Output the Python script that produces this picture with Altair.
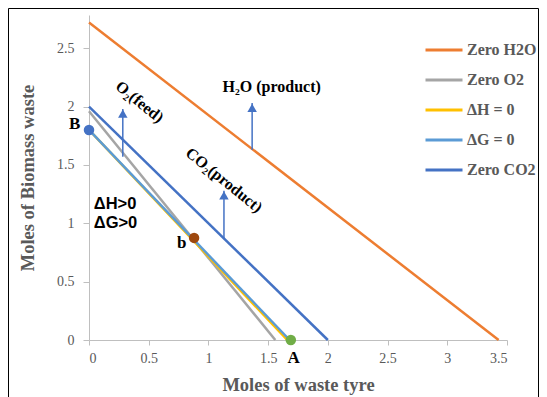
import altair as alt
import pandas as pd

# ---- data ----
series = ["Zero H2O", "Zero O2", "ΔH = 0", "ΔG = 0", "Zero CO2"]
colors = ["#ED7D31", "#A5A5A5", "#FFC000", "#5B9BD5", "#4472C4"]
x_start = [0, 0, 0, 0, 0]
y_start = [2.72, 1.96, 1.80, 1.80, 2.00]
x_end = [3.43, 1.56, 1.66, 1.68, 2.00]
y_end = [0, 0, 0, 0, 0]

pt_names = ["B", "b", "A"]
pt_x = [0.0, 0.88, 1.69]
pt_y = [1.80, 0.875, 0.0]
pt_colors = ["#4472C4", "#9E480E", "#70AD47"]
pt_label_x = [-0.121, 0.777, 1.713]
pt_label_y = [1.85, 0.827, -0.152]

arrow_x = [0.283, 1.366, 1.13]
arrow_base = [1.57, 1.63, 0.87]
arrow_tip = [1.98, 2.03, 1.28]

note_text = ["O₂(feed)", "H₂O (product)", "CO₂(product)"]
note_x = [0.424, 1.53, 1.13]
note_y = [2.04, 2.165, 1.37]
note_angle = [39, 0, 39]

region_text = ["ΔH>0", "ΔG>0"]
region_x = [0.04, 0.04]
region_y = [1.165, 1.005]

x_ticks = [0, 0.5, 1, 1.5, 2, 2.5, 3, 3.5]
y_ticks = [0, 0.5, 1, 1.5, 2, 2.5]

SERIF = "Liberation Serif"
SANS = "Liberation Sans"
GRAY = "#595959"

xs = alt.Scale(domain=[0, 3.5], nice=False, zero=False)
ys = alt.Scale(domain=[0, 2.785], nice=False, zero=False)

x_axis = alt.Axis(values=x_ticks, format="~g", title="Moles of waste tyre", grid=False,
                  tickSize=5, labelPadding=6, titleY=50, titleBaseline="alphabetic")
y_axis = alt.Axis(values=y_ticks, format="~g", title="Moles of Biomass waste", grid=False,
                  tickSize=6, labelPadding=9, titleX=-62, titleY=162.5,
                  titleBaseline="middle", titleAlign="center")

lines_df = pd.DataFrame({"series": series, "x": x_start, "y": y_start,
                         "x2": x_end, "y2": y_end, "order": list(range(len(series)))})

lines = alt.Chart(lines_df).mark_rule(strokeWidth=2.5).encode(
    x=alt.X("x:Q", scale=xs, axis=x_axis),
    y=alt.Y("y:Q", scale=ys, axis=y_axis),
    x2="x2:Q",
    y2="y2:Q",
    color=alt.Color("series:N", scale=alt.Scale(domain=series, range=colors),
                    legend=alt.Legend(title=None, orient="none", legendX=335, legendY=20.5,
                                      symbolType="stroke", symbolSize=1369,
                                      symbolStrokeWidth=3, labelFont=SERIF,
                                      labelFontWeight="bold", labelFontSize=16,
                                      labelColor=GRAY, rowPadding=0, clipHeight=29.2,
                                      labelOffset=3, padding=0)),
    order="order:Q",
)

pts_df = pd.DataFrame({"name": pt_names, "x": pt_x, "y": pt_y, "c": pt_colors,
                       "lx": pt_label_x, "ly": pt_label_y})
points = alt.Chart(pts_df).mark_point(filled=True, size=110, opacity=1).encode(
    x=alt.X("x:Q", scale=xs), y=alt.Y("y:Q", scale=ys),
    color=alt.Color("c:N", scale=None),
)
point_labels = alt.Chart(pts_df).mark_text(font=SERIF, fontWeight="bold", fontSize=17,
                                           color="black", baseline="middle").encode(
    x=alt.X("lx:Q", scale=xs), y=alt.Y("ly:Q", scale=ys), text="name:N",
)

arr_df = pd.DataFrame({"x": arrow_x, "y0": arrow_base, "y1": arrow_tip})
shafts = alt.Chart(arr_df).mark_rule(color="#4472C4", strokeWidth=1.5).encode(
    x=alt.X("x:Q", scale=xs), y=alt.Y("y0:Q", scale=ys), y2="y1:Q",
)
heads = alt.Chart(arr_df).mark_point(shape="triangle-up", filled=True, size=90,
                                     color="#4472C4", opacity=1, yOffset=4.7).encode(
    x=alt.X("x:Q", scale=xs), y=alt.Y("y1:Q", scale=ys),
)

notes_df = pd.DataFrame({"t": note_text, "x": note_x, "y": note_y, "a": note_angle})
notes = alt.layer(*[
    alt.Chart(notes_df.iloc[[i]]).mark_text(font=SERIF, fontWeight="bold", fontSize=16,
                                             color="black", angle=int(note_angle[i]),
                                             align="center", baseline="middle").encode(
        x=alt.X("x:Q", scale=xs), y=alt.Y("y:Q", scale=ys), text="t:N")
    for i in range(len(note_text))
])

region_df = pd.DataFrame({"t": region_text, "x": region_x, "y": region_y})
regions = alt.Chart(region_df).mark_text(font=SANS, fontWeight="bold", fontSize=16.5,
                                         color="black", align="left",
                                         baseline="middle").encode(
    x=alt.X("x:Q", scale=xs), y=alt.Y("y:Q", scale=ys), text="t:N",
)

frame = alt.Chart(pd.DataFrame({"k": [0]})).mark_rect(filled=False, stroke="black",
                                                       strokeWidth=1).encode(
    x=alt.value(-80.5), x2=alt.value(449.5), y=alt.value(-6.5), y2=alt.value(420),
)

chart = alt.layer(frame, lines, shafts, heads, points, point_labels, notes, regions).properties(
    width=418, height=325,
    autosize=alt.AutoSizeParams(type="none"),
    padding={"left": 81, "top": 7, "right": 32, "bottom": 57},
).configure_view(stroke=None).configure_axis(
    domainColor="#BFBFBF", tickColor="#BFBFBF", labelColor=GRAY, labelFont=SERIF,
    labelFontSize=14, titleFont=SERIF, titleFontSize=18.5, titleColor=GRAY,
    titleFontWeight="bold",
)

chart.save("out.html", embed_options={"renderer": "svg", "actions": False})
